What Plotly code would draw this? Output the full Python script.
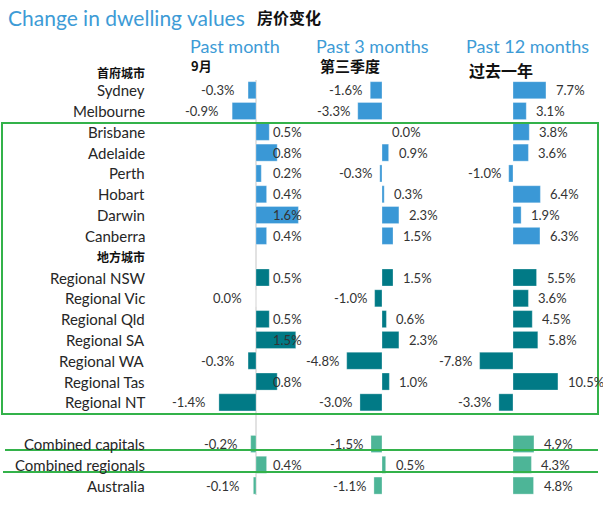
import math
import plotly.graph_objects as go

# ---------------- data ----------------
capitals = ["Sydney", "Melbourne", "Brisbane", "Adelaide", "Perth", "Hobart", "Darwin", "Canberra"]
cap_month = [-0.3, -0.9, 0.5, 0.8, 0.2, 0.4, 1.6, 0.4]
cap_3m = [-1.6, -3.3, 0.0, 0.9, -0.3, 0.3, 2.3, 1.5]
cap_12m = [7.7, 3.1, 3.8, 3.6, -1.0, 6.4, 1.9, 6.3]

regionals = ["Regional NSW", "Regional Vic", "Regional Qld", "Regional SA", "Regional WA", "Regional Tas", "Regional NT"]
reg_month = [0.5, -0.0, 0.5, 1.5, -0.3, 0.8, -1.4]
reg_3m = [1.5, -1.0, 0.6, 2.3, -4.8, 1.0, -3.0]
reg_12m = [5.5, 3.6, 4.5, 5.8, -7.8, 10.5, -3.3]

combined = ["Combined capitals", "Combined regionals", "Australia"]
comb_month = [-0.2, 0.4, -0.1]
comb_3m = [-1.5, 0.5, -1.1]
comb_12m = [4.9, 4.3, 4.8]

panel_titles = ["Past month", "Past 3 months", "Past 12 months"]
panel_subtitles = ["9月", "第三季度", "过去一年"]
title_en = "Change in dwelling values"
title_zh = "房价变化"
group_labels = ["首府城市", "地方城市"]

# ---------------- layout helpers ----------------
W, H = 603, 517
MT, MB = 59, 21
PH = H - MT - MB


def px(xp):
    return xp / W


def py(yp):
    return 1 - (yp - MT) / PH


cap_rows = list(range(0, 8))
reg_rows = list(range(9, 16))
comb_rows = list(range(17, 20))

C_CAP = "#3A98D6"
C_REG = "#017A86"
C_COMB = "#4DB597"
TXT = "#333333"
FONT = "Lato"
CJK = "Noto Sans CJK SC"

# panel pixel geometry: zero x, px per percent, domain left/right (px)
panels = [
    dict(zero=256, scale=26.5, left=150, right=310),
    dict(zero=382, scale=7.35, left=312, right=452),
    dict(zero=513, scale=4.28, left=455, right=603),
]

fig = go.Figure()
annotations = []
shapes = []

series = [
    (cap_rows, [cap_month, cap_3m, cap_12m], C_CAP),
    (reg_rows, [reg_month, reg_3m, reg_12m], C_REG),
    (comb_rows, [comb_month, comb_3m, comb_12m], C_COMB),
]

for pi, p in enumerate(panels):
    xa = "x" if pi == 0 else f"x{pi+1}"
    for rows, vals_list, col in series:
        vals = vals_list[pi]
        fig.add_trace(go.Bar(
            x=vals, y=rows, orientation="h", width=0.82,
            marker=dict(color=col, line=dict(color="rgba(255,255,255,0.6)", width=0.5)),
            xaxis=xa, yaxis="y", showlegend=False, hoverinfo="skip",
        ))
        for v, r in zip(vals, rows):
            neg = math.copysign(1, v) < 0
            txt = f"{abs(v):.1f}%"
            txt = ("-" + txt) if (neg and v != 0) else txt
            if pi == 0:
                if neg:
                    ann = dict(x=v, xanchor="right", xshift=-12)
                else:
                    ann = dict(x=0, xanchor="left", xshift=15)
            else:
                if neg:
                    ann = dict(x=v, xanchor="right", xshift=-6)
                else:
                    ann = dict(x=v, xanchor="left", xshift=8)
            ann.update(y=r, xref=xa, yref="y", text=txt, showarrow=False,
                       yanchor="middle", font=dict(family=FONT, size=13, color=TXT))
            annotations.append(ann)

# row labels
for names, rows in [(capitals, cap_rows), (regionals, reg_rows), (combined, comb_rows)]:
    for n, r in zip(names, rows):
        annotations.append(dict(x=px(147), xref="paper", y=r, yref="y", text=n, showarrow=False,
                                xanchor="right", yanchor="middle",
                                font=dict(family=FONT, size=15, color="#262626")))
# group labels
for g, r in zip(group_labels, [-0.85, 8]):
    annotations.append(dict(x=px(147), xref="paper", y=r, yref="y", text=f"<b>{g}</b>", showarrow=False,
                            xanchor="right", yanchor="middle",
                            font=dict(family=CJK, size=12, color="#111111")))

# titles
annotations.append(dict(x=px(6), y=py(18), xref="paper", yref="paper", text=title_en,
                        showarrow=False, xanchor="left", yanchor="middle",
                        font=dict(family=FONT, size=21, color="#3D9BD6")))
annotations.append(dict(x=px(255), y=py(17), xref="paper", yref="paper", text=f"<b>{title_zh}</b>",
                        showarrow=False, xanchor="left", yanchor="middle",
                        font=dict(family=CJK, size=16, color="#111111")))

head_x = [189, 315, 465]
sub_pos = [(190, 66), (319, 66), (468, 70)]
sub_size = [13, 15, 16]
for i in range(3):
    annotations.append(dict(x=px(head_x[i]), y=py(46), xref="paper", yref="paper",
                            text=panel_titles[i], showarrow=False, xanchor="left", yanchor="middle",
                            borderpad=0,
                            font=dict(family=FONT, size=18, color="#3D9BD6")))
    annotations.append(dict(x=px(sub_pos[i][0]), y=py(sub_pos[i][1]), xref="paper", yref="paper",
                            text=f"<b>{panel_subtitles[i]}</b>", showarrow=False, xanchor="left",
                            yanchor="middle", borderpad=0,
                            font=dict(family=CJK, size=sub_size[i], color="#111111")))

# green frame and lines
GREEN = "#33B24A"
shapes.append(dict(type="rect", xref="paper", yref="paper", x0=px(2), x1=px(598),
                   y0=py(414), y1=py(123), line=dict(color=GREEN, width=2)))
shapes.append(dict(type="line", xref="paper", yref="paper", x0=px(5), x1=px(598),
                   y0=py(450), y1=py(450), line=dict(color=GREEN, width=2)))
shapes.append(dict(type="line", xref="paper", yref="paper", x0=px(3), x1=px(598),
                   y0=py(472), y1=py(472), line=dict(color=GREEN, width=2)))
# zero line for first panel
shapes.append(dict(type="line", xref="x", yref="paper", x0=0, x1=0,
                   y0=py(495), y1=py(80), line=dict(color="#D9D9D9", width=1.5), layer="below"))

layout = dict(
    width=W, height=H, margin=dict(l=0, r=0, t=MT, b=MB),
    paper_bgcolor="white", plot_bgcolor="white",
    barmode="overlay", annotations=annotations, shapes=shapes,
    yaxis=dict(range=[19.5, -1.5], visible=False, domain=[0, 1]),
)
for pi, p in enumerate(panels):
    key = "xaxis" if pi == 0 else f"xaxis{pi+1}"
    lo = (p["left"] - p["zero"]) / p["scale"]
    hi = (p["right"] - p["zero"]) / p["scale"]
    layout[key] = dict(domain=[p["left"] / W, p["right"] / W], range=[lo, hi], visible=False,
                       anchor="y", fixedrange=True)

fig.update_layout(**layout)
fig.write_html("out.html")
